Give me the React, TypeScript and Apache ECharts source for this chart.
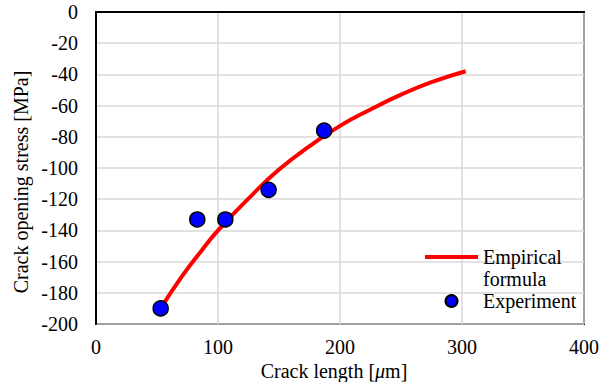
import React, { useEffect, useRef } from "react";
import * as echarts from "echarts";

// Experimental data: crack length [µm], crack opening stress [MPa]
const experimentX = [53, 83, 106, 141.5, 187];
const experimentY = [-190, -133, -133, -114, -76];

// Empirical formula curve
const empiricalX = [53, 70, 86, 100, 127, 150, 175, 200, 225, 250, 275, 303];
const empiricalY = [-190, -170, -153.5, -140, -118, -101, -86, -73, -62.5, -53, -45, -38];

const xTicks = { min: 0, max: 400, interval: 100 };
const yTicks = { min: -200, max: 0, interval: 20 };

const FONT = "Liberation Serif, Times New Roman, serif";

export default function App() {
  const ref = useRef<HTMLDivElement>(null);
  useEffect(() => {
    if (!ref.current) return;
    const chart = echarts.init(ref.current, null, { renderer: "svg" });
    const empirical = empiricalX.map((x, i) => [x, empiricalY[i]]);
    const experiment = experimentX.map((x, i) => [x, experimentY[i]]);
    chart.setOption({
      animation: false,
      backgroundColor: "#ffffff",
      textStyle: { fontFamily: FONT },
      grid: {
        left: 96,
        right: 25,
        top: 12,
        bottom: 58,
        outerBoundsMode: "none",
        containLabel: false,
        show: true,
        borderColor: "#000000",
        borderWidth: 2,
      },
      legend: {
        orient: "vertical",
        left: 420,
        top: 219,
        itemWidth: 53,
        itemHeight: 12,
        itemGap: 0,
        textStyle: {
          fontFamily: FONT,
          fontSize: 20,
          color: "#000000",
          lineHeight: 22,
        },
        data: [
          { name: "Empirical formula", icon: "path://M0,0 L53,0 L53,4 L0,4 Z" },
          { name: "Experiment" },
        ],
        formatter: (name: string) =>
          name === "Empirical formula" ? " \nEmpirical\nformula" : name,
      },
      xAxis: {
        type: "value",
        min: xTicks.min,
        max: xTicks.max,
        interval: xTicks.interval,
        axisLine: { show: true, lineStyle: { color: "#000000", width: 2 } },
        axisTick: { show: false },
        axisLabel: { fontFamily: FONT, fontSize: 20, color: "#000000", margin: 13 },
        splitLine: { show: true, lineStyle: { color: "#d9d9d9", width: 1.5 } },
      },
      yAxis: {
        type: "value",
        min: yTicks.min,
        max: yTicks.max,
        interval: yTicks.interval,
        axisLine: { show: true, lineStyle: { color: "#000000", width: 2 } },
        axisTick: { show: false },
        axisLabel: { fontFamily: FONT, fontSize: 20, color: "#000000", margin: 18 },
        splitLine: { show: true, lineStyle: { color: "#d9d9d9", width: 1.5 } },
      },
      graphic: [
        {
          type: "text",
          x: 21,
          y: 182,
          rotation: Math.PI / 2,
          style: {
            text: "Crack opening stress [MPa]",
            fontFamily: FONT,
            fontSize: 20,
            fill: "#000000",
            align: "center",
            verticalAlign: "middle",
          },
        },
        {
          type: "text",
          x: 334,
          y: 371,
          style: {
            text: "Crack length [{i|μ}m]",
            fontFamily: FONT,
            fontSize: 20,
            fill: "#000000",
            align: "center",
            verticalAlign: "middle",
            rich: { i: { fontFamily: FONT, fontSize: 20, fontStyle: "italic", fill: "#000000" } },
          },
        },
      ],
      series: [
        {
          name: "Empirical formula",
          type: "line",
          data: empirical,
          smooth: 0.5,
          showSymbol: false,
          symbol: "none",
          lineStyle: { color: "#ff0000", width: 4 },
          itemStyle: { color: "#ff0000" },
          z: 2,
        },
        {
          name: "Experiment",
          type: "scatter",
          data: experiment,
          symbol: "circle",
          symbolSize: 15,
          itemStyle: { color: "#0000ff", borderColor: "#000000", borderWidth: 1.5, opacity: 1 },
          z: 3,
        },
      ],
    });
    return () => chart.dispose();
  }, []);
  return (
    <div
      ref={ref}
      style={{ position: "fixed", left: 0, top: 0, width: 609, height: 382, background: "#fff" }}
    />
  );
}
